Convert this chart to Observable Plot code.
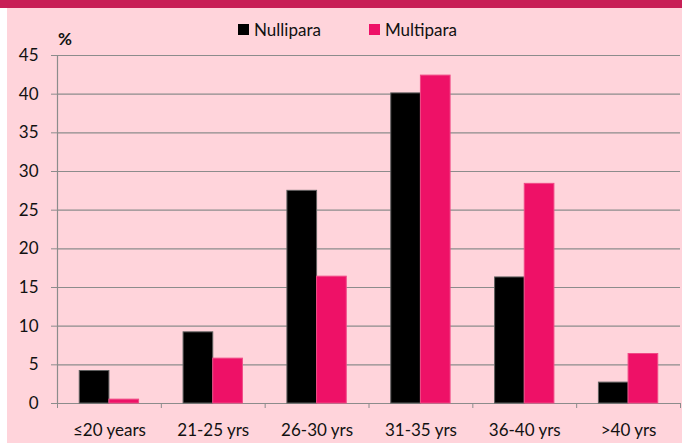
<!DOCTYPE html>
<html>
<head>
<meta charset="utf-8">
<script src="https://cdn.jsdelivr.net/npm/d3@7"></script>
<script src="https://cdn.jsdelivr.net/npm/@observablehq/plot@0.6"></script>
<style>
  html, body { margin: 0; padding: 0; background: #ffffff; }
  #wrap { position: relative; width: 682px; height: 446px; overflow: hidden; background: #ffffff; font-family: Lato, "Open Sans", sans-serif; }
  #topbar { position: absolute; left: 0; top: 0; width: 682px; height: 8px; background: #C81F56; }
  #panel { position: absolute; left: 7px; top: 8px; width: 675px; height: 435px; background: #FFD4DB; }
  #chart { position: absolute; left: 0; top: 0; }
  #legend { position: absolute; left: 231px; top: 11px; display: flex; align-items: center; font-size: 17px; color: #111111; white-space: nowrap; }
  .item { display: flex; align-items: center; margin-right: 48px; }
  .sw { width: 11px; height: 11px; margin-right: 5px; }
  #ylabel { position: absolute; left: 51px; top: 22px; font-size: 17px; line-height: 17px; font-weight: bold; color: #111111; }
</style>
</head>
<body>
<div id="wrap">
  <div id="topbar"></div>
  <div id="panel">
    <div id="chart"></div>
    <div id="legend"></div>
    <div id="ylabel"></div>
  </div>
</div>
<script>
const categories = ["≤20 years", "21-25 yrs", "26-30 yrs", "31-35 yrs", "36-40 yrs", ">40 yrs"];
const series = ["Nullipara", "Multipara"];
const nullipara = [4.2, 9.2, 27.5, 40.1, 16.3, 2.7];
const multipara = [0.5, 5.8, 16.4, 42.4, 28.4, 6.4];
const yTicks = [0, 5, 10, 15, 20, 25, 30, 35, 40, 45];
const yLabel = "%";
const fills = ["#000000", "#EE1167"];
const strokes = ["#5f5f5f", "#F04A86"];
const gapWidth = 1.5; // Excel-style gap width (150%)

const n = categories.length;
const barW = 1 / (series.length + gapWidth);
const rows = [];
[nullipara, multipara].forEach((vals, s) => {
  vals.forEach((v, i) => {
    const x1 = i + (gapWidth / 2) * barW + s * barW;
    rows.push({category: categories[i], series: series[s], value: v, x1, x2: x1 + barW});
  });
});

const grid = "#8c8c8c";
const chart = Plot.plot({
  width: 675,
  height: 435,
  marginLeft: 50,
  marginRight: 2,
  marginTop: 47,
  marginBottom: 40,
  style: {background: "transparent", fontFamily: "Lato, 'Open Sans', sans-serif", fontSize: "17px", color: "#111111", overflow: "visible"},
  x: {domain: [0, n], axis: null},
  y: {domain: [0, 45], axis: null},
  marks: [
    Plot.ruleY(yTicks, {stroke: grid, strokeWidth: 1.2}),
    Plot.ruleX([0], {stroke: grid, strokeWidth: 1.2}),
    ...series.map((s, k) => Plot.rect(rows.filter(d => d.series === s), {
      x1: "x1", x2: "x2", y1: 0, y2: "value",
      fill: fills[k], stroke: strokes[k], strokeWidth: 1
    })),
    Plot.axisY(yTicks, {anchor: "left", tickSize: 6, tickPadding: 13, stroke: grid, label: null}),
    Plot.axisX(d3.range(n + 1), {anchor: "bottom", tickSize: 5, stroke: grid, tickFormat: () => "", label: null}),
    Plot.axisX(d3.range(n).map(i => i + 0.5), {anchor: "bottom", tickSize: 0, tickPadding: 20, tickFormat: d => categories[Math.floor(d)], label: null})
  ]
});
document.getElementById("chart").appendChild(chart);
document.getElementById("ylabel").textContent = yLabel;

const legend = d3.select("#legend");
series.forEach((s, k) => {
  const it = legend.append("div").attr("class", "item");
  it.append("div").attr("class", "sw").style("background", fills[k]);
  it.append("span").text(s);
});
</script>
</body>
</html>
